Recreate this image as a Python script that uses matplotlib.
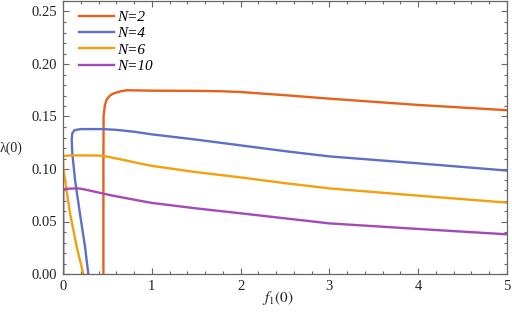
import matplotlib
matplotlib.use("Agg")
import matplotlib.pyplot as plt
from matplotlib.ticker import MultipleLocator

# Data
labels = ["N=2", "N=4", "N=6", "N=10"]
colors = ["#E8601A", "#5D6FC8", "#F5A00A", "#A349B8"]

x_n2 = [0.455, 0.455, 0.457, 0.47, 0.49, 0.53, 0.57, 0.65, 0.72, 1.0, 1.5, 1.8, 2.0, 2.5, 3.0, 3.5, 4.0, 4.5, 5.0]
y_n2 = [0.0, 0.10, 0.150, 0.160, 0.166, 0.170, 0.172, 0.174, 0.175, 0.1746, 0.1744, 0.1740, 0.1733, 0.1703, 0.167, 0.164, 0.161, 0.1585, 0.156]

x_n4 = [0.285, 0.248, 0.19, 0.135, 0.105, 0.098, 0.105, 0.13, 0.2, 0.45, 0.6, 0.8, 1.0, 1.5, 2.0, 2.5, 3.0, 4.0, 5.0]
y_n4 = [0.0, 0.026, 0.058, 0.09, 0.115, 0.128, 0.134, 0.137, 0.138, 0.138, 0.1373, 0.1355, 0.133, 0.128, 0.1225, 0.117, 0.112, 0.1054, 0.0985]

x_n6 = [0.229, 0.154, 0.079, 0.022, 0.005, 0.0, 0.1, 0.4, 0.5, 0.6, 0.72, 0.85, 1.0, 1.5, 2.0, 2.5, 3.0, 4.0, 5.0]
y_n6 = [0.0, 0.026, 0.058, 0.09, 0.100, 0.1125, 0.113, 0.1128, 0.1118, 0.110, 0.108, 0.1055, 0.103, 0.097, 0.092, 0.0865, 0.0815, 0.0746, 0.068]

x_n10 = [0.003, 0.003, 0.02, 0.15, 0.2, 0.3, 0.42, 0.55, 0.7, 0.85, 1.0, 1.5, 2.0, 2.5, 3.0, 4.0, 5.0]
y_n10 = [0.0, 0.079, 0.081, 0.0816, 0.0812, 0.0795, 0.0772, 0.0748, 0.0724, 0.0700, 0.0677, 0.0625, 0.0578, 0.053, 0.0482, 0.0429, 0.0378]

xs = [x_n2, x_n4, x_n6, x_n10]
ys = [y_n2, y_n4, y_n6, y_n10]

plt.rcParams['font.family'] = ['Liberation Serif', 'DejaVu Serif']
plt.rcParams['mathtext.fontset'] = 'stix'

fig = plt.figure(figsize=(5.12, 3.2), dpi=100)
ax = fig.add_axes([63/512, 1 - 274/320, (507-63)/512, 273/320])

for x, y, c, lab in zip(xs, ys, colors, labels):
    ax.plot(x, y, color=c, lw=1.7, label=lab, solid_joinstyle='round', clip_on=True)

ax.set_xlim(0, 5)
ax.set_ylim(0, 0.26)
ax.xaxis.set_major_locator(MultipleLocator(1))
ax.xaxis.set_minor_locator(MultipleLocator(0.2))
ax.yaxis.set_major_locator(MultipleLocator(0.05))
ax.yaxis.set_minor_locator(MultipleLocator(0.01))
ax.yaxis.set_major_formatter(plt.FuncFormatter(lambda v, p: f"{v:.2f}"))
ax.xaxis.set_major_formatter(plt.FuncFormatter(lambda v, p: f"{v:.0f}"))

frame_c = "#666666"
for s in ax.spines.values():
    s.set_color(frame_c)
    s.set_linewidth(0.9)
ax.tick_params(which='both', direction='in', top=True, right=True, color=frame_c,
               labelsize=10.5, labelcolor='#222222', width=0.8)
ax.tick_params(which='major', length=4)
ax.tick_params(which='minor', length=2.2)
ax.tick_params(axis='x', pad=4)
ax.tick_params(axis='y', pad=4)

leg = ax.legend(loc='upper left', bbox_to_anchor=(0.015, 1.0), frameon=False,
                handlelength=2.3, handletextpad=0.2, labelspacing=0.18,
                prop={'family': 'Liberation Serif', 'style': 'italic', 'size': 11},
                borderaxespad=0.2)

fig.text(11/512, 1 - 148/320, "λ(0)", ha='center', va='center', fontsize=10, color='#222222')
fig.text(278/512, 1 - 298/320, r"$f_1(0)$", ha='center', va='center', fontsize=11, color='#222222')

fig.savefig("out.png", dpi=100)
